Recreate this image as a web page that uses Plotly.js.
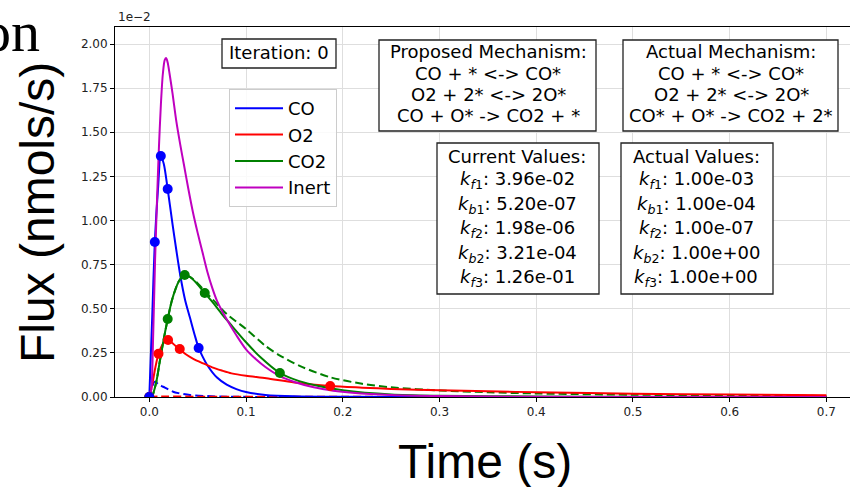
<!DOCTYPE html>
<html>
<head>
<meta charset="utf-8">
<script src="https://cdn.plot.ly/plotly-3.0.1.min.js"></script>
<style>
html,body{margin:0;padding:0;overflow:hidden;background:#fff;}
#chart{width:870px;height:487px;}
</style>
</head>
<body>
<div id="chart"></div>
<script>
// ---------------- data (flux in units of 1e-2 nmols/s) ----------------
const SPECIES = ['CO', 'O2', 'CO2', 'Inert'];

// solid curves
const T_CO = [0, 0.003, 0.0057, 0.009, 0.0119, 0.015, 0.019, 0.024, 0.028, 0.032, 0.037, 0.042, 0.047, 0.051, 0.055, 0.060, 0.070, 0.080, 0.090, 0.100, 0.120, 0.150, 0.200, 0.300, 0.700];
const F_CO = [0, 0.45, 0.878, 1.18, 1.365, 1.32, 1.178, 0.98, 0.83, 0.69, 0.55, 0.45, 0.35, 0.278, 0.23, 0.18, 0.11, 0.07, 0.045, 0.028, 0.012, 0.004, 0.001, 0, 0];

const T_O2 = [0, 0.003, 0.006, 0.0095, 0.013, 0.0165, 0.0194, 0.023, 0.027, 0.0315, 0.037, 0.045, 0.055, 0.065, 0.075, 0.085, 0.100, 0.121, 0.150, 0.187, 0.220, 0.250, 0.300, 0.350, 0.400, 0.500, 0.600, 0.700];
const F_O2 = [0, 0.07, 0.16, 0.245, 0.29, 0.318, 0.323, 0.31, 0.29, 0.272, 0.245, 0.218, 0.192, 0.168, 0.15, 0.134, 0.12, 0.106, 0.082, 0.062, 0.053, 0.046, 0.038, 0.032, 0.027, 0.019, 0.014, 0.010];

const T_CO2 = [0, 0.0024, 0.007, 0.0108, 0.015, 0.019, 0.023, 0.027, 0.031, 0.0366, 0.042, 0.048, 0.0573, 0.065, 0.075, 0.0835, 0.100, 0.115, 0.135, 0.155, 0.175, 0.200, 0.250, 0.300, 0.400, 0.500, 0.700];
const F_CO2 = [0, 0, 0.08, 0.2, 0.33, 0.442, 0.54, 0.61, 0.66, 0.691, 0.68, 0.65, 0.589, 0.54, 0.47, 0.415, 0.31, 0.225, 0.136, 0.09, 0.062, 0.038, 0.014, 0.007, 0.003, 0.001, 0];

const T_INERT = [0, 0.002, 0.004, 0.006, 0.008, 0.010, 0.012, 0.014, 0.016, 0.0175, 0.019, 0.021, 0.024, 0.028, 0.032, 0.036, 0.040, 0.045, 0.050, 0.055, 0.060, 0.065, 0.070, 0.080, 0.090, 0.100, 0.110, 0.120, 0.135, 0.150, 0.170, 0.190, 0.210, 0.250, 0.300, 0.400, 0.500, 0.700];
const F_INERT = [0, 0.04, 0.35, 0.78, 1.12, 1.42, 1.66, 1.83, 1.91, 1.92, 1.895, 1.83, 1.72, 1.56, 1.43, 1.31, 1.19, 1.05, 0.93, 0.82, 0.71, 0.62, 0.545, 0.44, 0.35, 0.27, 0.215, 0.17, 0.118, 0.085, 0.055, 0.036, 0.024, 0.011, 0.005, 0.001, 0, 0];

// dashed curves
const T_CO_D = [0, 0.003, 0.0057, 0.010, 0.0143, 0.020, 0.0246, 0.030, 0.042, 0.060, 0.080, 0.120, 0.700];
const F_CO_D = [0, 0.06, 0.087, 0.07, 0.058, 0.042, 0.03, 0.022, 0.011, 0.005, 0.002, 0, 0];

const T_O2_D = [0, 0.010, 0.050, 0.150, 0.700];
const F_O2_D = [0, 0.003, 0.002, 0.001, 0];

const T_CO2_D = [0, 0.0024, 0.007, 0.0108, 0.015, 0.019, 0.023, 0.027, 0.031, 0.0366, 0.042, 0.048, 0.0573, 0.066, 0.080, 0.100, 0.120, 0.135, 0.156, 0.187, 0.220, 0.250, 0.300, 0.350, 0.400, 0.500, 0.600, 0.700];
const F_CO2_D = [0, 0, 0.08, 0.2, 0.33, 0.44, 0.54, 0.61, 0.66, 0.69, 0.68, 0.655, 0.60, 0.55, 0.47, 0.385, 0.29, 0.235, 0.175, 0.112, 0.075, 0.055, 0.037, 0.027, 0.02, 0.013, 0.009, 0.006];

// sampled points (markers)
const T_CO_PTS = [0, 0.0057, 0.0119, 0.019, 0.051];
const F_CO_PTS = [0, 0.878, 1.365, 1.178, 0.278];
const T_O2_PTS = [0, 0.0095, 0.0194, 0.0315, 0.187];
const F_O2_PTS = [0, 0.245, 0.323, 0.272, 0.062];
const T_CO2_PTS = [0, 0.019, 0.0366, 0.0573, 0.135];
const F_CO2_PTS = [0, 0.442, 0.691, 0.589, 0.136];

// axis ticks
const X_TICKS = [0, 0.1, 0.2, 0.3, 0.4, 0.5, 0.6, 0.7];
const Y_TICKS = [0, 0.25, 0.5, 0.75, 1.0, 1.25, 1.5, 1.75, 2.0];

// text boxes
const ITERATION = 0;
const MECH_PROPOSED = ['Proposed Mechanism:', 'CO + * &lt;-&gt; CO*', 'O2 + 2* &lt;-&gt; 2O*', 'CO + O* -&gt; CO2 + *'];
const MECH_ACTUAL = ['Actual Mechanism:', 'CO + * &lt;-&gt; CO*', 'O2 + 2* &lt;-&gt; 2O*', 'CO* + O* -&gt; CO2 + 2*'];
const K_SUBS = [['f', '1'], ['b', '1'], ['f', '2'], ['b', '2'], ['f', '3']];
const K_CURRENT = ['3.96e-02', '5.20e-07', '1.98e-06', '3.21e-04', '1.26e-01'];
const K_ACTUAL = ['1.00e-03', '1.00e-04', '1.00e-07', '1.00e+00', '1.00e+00'];

// ---------------- styling ----------------
const COLORS = {CO: '#0000ff', O2: '#ff0000', CO2: '#008000', Inert: '#bf00bf'};
const FONT = 'DejaVu Sans, Verdana, sans-serif';
const W = 870, H = 487;
const M = {l: 115, r: 10, t: 27, b: 90};
const PW = W - M.l - M.r, PH = H - M.t - M.b;
const px = x => (x - M.l) / PW;
const py = y => (H - M.b - y) / PH;

const LW = 2;
const traces = [];
function line(t, f, name, dashed, legend) {
  traces.push({
    x: t, y: f, type: 'scatter', mode: 'lines', name: name,
    showlegend: !!legend, hoverinfo: 'skip',
    line: {color: COLORS[name], width: LW, dash: dashed ? '8px,4px' : 'solid', shape: 'spline', smoothing: 0.8}
  });
}
function pts(t, f, name) {
  traces.push({
    x: t, y: f, type: 'scatter', mode: 'markers', name: name, showlegend: false, hoverinfo: 'skip',
    marker: {color: COLORS[name], size: 10, line: {width: 0}}
  });
}
line(T_CO_D, F_CO_D, 'CO', true, false);
line(T_CO2_D, F_CO2_D, 'CO2', true, false);
line(T_O2_D, F_O2_D, 'O2', true, false);
line(T_CO, F_CO, 'CO', false, true);
line(T_O2, F_O2, 'O2', false, true);
line(T_CO2, F_CO2, 'CO2', false, true);
line(T_INERT, F_INERT, 'Inert', false, true);
pts(T_CO2_PTS, F_CO2_PTS, 'CO2');
pts(T_O2_PTS, F_O2_PTS, 'O2');
pts(T_CO_PTS, F_CO_PTS, 'CO');

// boxes (pixel coords of the picture)
const shapes = [];
const annotations = [];
function box(x0, y0, x1, y1) {
  shapes.push({type: 'rect', xref: 'paper', yref: 'paper', layer: 'above',
    x0: px(x0), x1: px(x1), y0: py(y1), y1: py(y0),
    fillcolor: '#ffffff', line: {color: '#222', width: 1.3}});
}
function txt(text, cx, cy, size, extra) {
  annotations.push(Object.assign({
    text: text, xref: 'paper', yref: 'paper', x: px(cx), y: py(cy),
    xanchor: 'center', yanchor: 'middle', showarrow: false,
    font: {family: FONT, size: size || 18, color: '#000'}
  }, extra || {}));
}

box(222, 39, 336, 68);
txt('Iteration: ' + ITERATION, 279, 53);

box(379, 40, 596, 131);
MECH_PROPOSED.forEach((s, i) => txt(s, 488, 52 + i * 21.2));
box(623, 40, 838, 131);
MECH_ACTUAL.forEach((s, i) => txt(s, 731, 52 + i * 21.2));

const kLabel = (s) => '<i>k</i><sub><i>' + s[0] + '</i>' + s[1] + '</sub>';
box(437, 143, 599, 294);
txt('Current Values:', 517, 156);
K_CURRENT.forEach((v, i) => txt(kLabel(K_SUBS[i]) + ': ' + v, 517, 180 + i * 24.5));
box(621, 143, 773, 294);
txt('Actual Values:', 696, 156);
K_ACTUAL.forEach((v, i) => txt(kLabel(K_SUBS[i]) + ': ' + v, 696, 180 + i * 24.5));

// axis titles & offset text
annotations.push({text: 'Time (s)', xref: 'paper', yref: 'paper', x: px(485), y: py(461),
  xanchor: 'center', yanchor: 'middle', showarrow: false,
  font: {family: 'Liberation Sans, Arial, sans-serif', size: 48, color: '#000'}});
annotations.push({text: 'Flux (nmols/s)', xref: 'paper', yref: 'paper', x: px(37), y: py(213),
  xanchor: 'center', yanchor: 'middle', showarrow: false, textangle: -90,
  font: {family: 'Liberation Sans, Arial, sans-serif', size: 48, color: '#000'}});
annotations.push({text: '1e\u22122', xref: 'paper', yref: 'paper', x: px(116), y: py(17),
  xanchor: 'left', yanchor: 'middle', showarrow: false,
  font: {family: FONT, size: 12, color: '#222'}});
annotations.push({text: 'on', xref: 'paper', yref: 'paper', x: px(42), y: py(31),
  xanchor: 'right', yanchor: 'middle', showarrow: false,
  font: {family: 'Liberation Serif, Times New Roman, serif', size: 58, color: '#000'}});

const layout = {
  width: W, height: H, margin: M,
  paper_bgcolor: '#fff', plot_bgcolor: '#fff',
  font: {family: FONT, size: 12, color: '#222'},
  xaxis: {
    range: [(115 - 149.3) / 967.3, (860 - 149.3) / 967.3],
    tickvals: X_TICKS, tickformat: '.1f',
    showgrid: true, gridcolor: '#dedede', gridwidth: 1, zeroline: false,
    showline: true, linecolor: '#000', linewidth: 1, mirror: true,
    ticks: 'outside', ticklen: 4, tickwidth: 1, tickcolor: '#000',
    tickfont: {family: FONT, size: 12, color: '#222'}
  },
  yaxis: {
    range: [0, 370 / 176.5],
    tickvals: Y_TICKS, tickformat: '.2f',
    showgrid: true, gridcolor: '#dedede', gridwidth: 1, zeroline: false,
    showline: true, linecolor: '#000', linewidth: 1, mirror: true,
    ticks: 'outside', ticklen: 4, tickwidth: 1, tickcolor: '#000',
    tickfont: {family: FONT, size: 12, color: '#222'}
  },
  legend: {
    x: px(229), y: py(89), xanchor: 'left', yanchor: 'top',
    bgcolor: 'rgba(255,255,255,0.85)', bordercolor: '#cccccc', borderwidth: 1,
    font: {family: FONT, size: 18, color: '#000'}, itemwidth: 48
  },
  shapes: shapes,
  annotations: annotations,
  showlegend: true
};

Plotly.newPlot('chart', traces, layout, {staticPlot: true, displayModeBar: false});
</script>
</body>
</html>
